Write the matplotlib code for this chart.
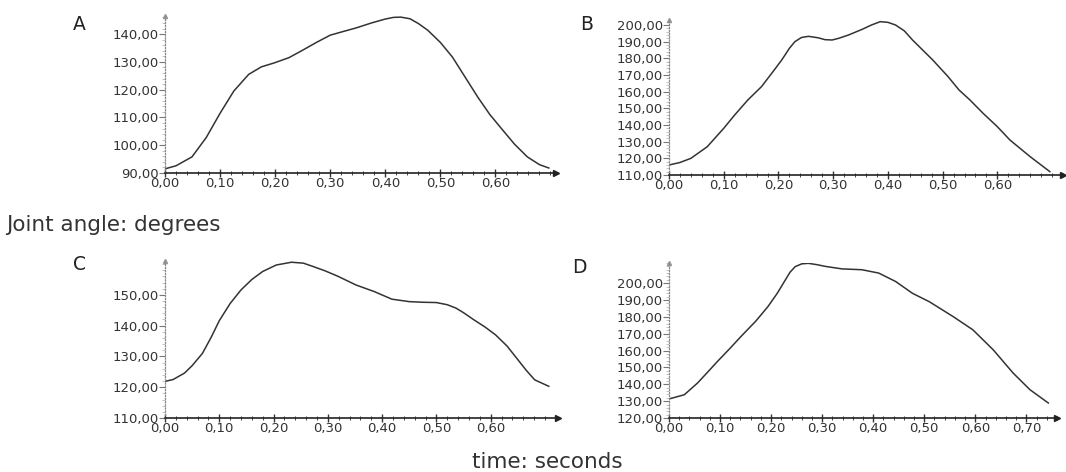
import matplotlib
matplotlib.use("Agg")
import matplotlib.pyplot as plt
from matplotlib.ticker import MultipleLocator, FuncFormatter

# values (time in s, joint angle in degrees)
t_a = [0.0, 0.02, 0.049, 0.075, 0.10, 0.125, 0.152, 0.175, 0.198, 0.225, 0.25, 0.275, 0.30,
       0.325, 0.347, 0.375, 0.40, 0.415, 0.428, 0.445, 0.46, 0.477, 0.50, 0.522, 0.545,
       0.568, 0.59, 0.613, 0.635, 0.658, 0.68, 0.697]
v_a = [91.5, 92.6, 95.8, 102.8, 111.5, 119.5, 125.5, 128.2, 129.6, 131.5, 134.2, 137.0, 139.6,
       141.0, 142.2, 144.0, 145.4, 146.0, 146.1, 145.5, 143.8, 141.4, 137.0, 131.7, 124.5,
       117.3, 111.0, 105.5, 100.3, 95.8, 93.0, 91.8]

t_b = [0.0, 0.02, 0.04, 0.07, 0.10, 0.12, 0.144, 0.169, 0.19, 0.206, 0.22, 0.23, 0.242, 0.255,
       0.273, 0.285, 0.298, 0.31, 0.328, 0.353, 0.37, 0.386, 0.40, 0.414, 0.43, 0.445, 0.482,
       0.51, 0.53, 0.55, 0.574, 0.60, 0.623, 0.66, 0.696]
v_b = [116.0, 117.5, 120.0, 127.0, 138.0, 146.0, 155.0, 163.0, 172.0, 179.0, 186.0, 190.0, 192.5,
       193.2, 192.3, 191.2, 191.0, 192.0, 194.0, 197.4, 200.0, 202.0, 201.6, 200.0, 196.5, 191.0,
       179.0, 169.0, 161.0, 155.0, 147.0, 139.0, 131.0, 121.0, 112.0]

t_c = [0.0, 0.015, 0.036, 0.05, 0.069, 0.085, 0.10, 0.12, 0.14, 0.16, 0.18, 0.205, 0.233, 0.255,
       0.273, 0.295, 0.319, 0.352, 0.385, 0.418, 0.45, 0.475, 0.50, 0.52, 0.536, 0.55, 0.569,
       0.59, 0.609, 0.63, 0.648, 0.665, 0.681, 0.707]
v_c = [121.9, 122.5, 124.6, 127.0, 131.0, 136.2, 141.6, 147.2, 151.6, 155.0, 157.6, 159.7, 160.6,
       160.3, 159.2, 157.8, 156.0, 153.2, 151.1, 148.6, 147.8, 147.6, 147.5, 146.8, 145.7, 144.2,
       141.9, 139.5, 137.0, 133.4, 129.4, 125.6, 122.4, 120.3]

t_d = [0.0, 0.03, 0.056, 0.075, 0.095, 0.12, 0.141, 0.17, 0.194, 0.212, 0.227, 0.237, 0.247,
       0.26, 0.273, 0.29, 0.306, 0.339, 0.378, 0.411, 0.444, 0.477, 0.51, 0.556, 0.595, 0.635,
       0.674, 0.707, 0.743]
v_d = [131.3, 133.8, 140.8, 147.0, 153.6, 161.5, 168.4, 177.5, 186.2, 194.0, 201.5, 206.5, 209.8,
       211.5, 211.8, 211.0, 210.0, 208.5, 208.0, 206.0, 201.0, 194.0, 189.0, 180.3, 172.4, 160.5,
       146.7, 136.8, 128.9]

yticks_a = [90, 100, 110, 120, 130, 140]
yticks_b = [110, 120, 130, 140, 150, 160, 170, 180, 190, 200]
yticks_c = [110, 120, 130, 140, 150]
yticks_d = [120, 130, 140, 150, 160, 170, 180, 190, 200]
xticks_abc = [0.0, 0.1, 0.2, 0.3, 0.4, 0.5, 0.6]
xticks_d = [0.0, 0.1, 0.2, 0.3, 0.4, 0.5, 0.6, 0.7]

W, H = 1066, 472

def px_box(left, right, bottom, top):
    # pixel box (from top-left) -> figure fraction rect
    return [left / W, 1 - bottom / H, (right - left) / W, (bottom - top) / H]

panels = [
    # label, t, v, axes box, xlim, ylim, yticks, xticks, label pos (px)
    ("A", t_a, v_a, px_box(165, 556, 173, 16), (0, 0.71), (90, 146.5), yticks_a, xticks_abc, (73, 30)),
    ("B", t_b, v_b, px_box(669, 1063, 175, 20), (0, 0.72), (110, 203), yticks_b, xticks_abc, (580, 30)),
    ("C", t_c, v_c, px_box(165, 558, 418, 261), (0, 0.724), (110, 161), yticks_c, xticks_abc, (73, 270)),
    ("D", t_d, v_d, px_box(669, 1057, 418, 263), (0, 0.76), (120, 212), yticks_d, xticks_d, (572, 273)),
]

comma = FuncFormatter(lambda v, p: f"{v:.2f}".replace(".", ","))

fig = plt.figure(figsize=(W / 100, H / 100), dpi=100)
fig.patch.set_facecolor("white")

for lab, t, v, box, xl, yl, yt, xt, lpos in panels:
    ax = fig.add_axes(box)
    ax.set_facecolor("white")
    ax.plot(t, v, color="#333333", lw=1.1)
    ax.set_xlim(*xl)
    ax.set_ylim(*yl)
    ax.set_xticks(xt)
    ax.set_yticks(yt)
    ax.xaxis.set_minor_locator(MultipleLocator(0.02))
    ax.yaxis.set_minor_locator(MultipleLocator(2))
    ax.xaxis.set_major_formatter(comma)
    ax.yaxis.set_major_formatter(comma)
    for s in ("top", "right"):
        ax.spines[s].set_visible(False)
    ax.spines["bottom"].set_color("#222222")
    ax.spines["bottom"].set_linewidth(1.2)
    ax.spines["left"].set_color("#888888")
    ax.spines["left"].set_linestyle((0, (1, 1.5)))
    ax.spines["left"].set_linewidth(0.9)
    ax.tick_params(axis="x", which="major", direction="inout", length=6, width=1,
                   color="#333333", labelsize=9.5, labelcolor="#333333", pad=0)
    ax.tick_params(axis="x", which="minor", direction="inout", length=3, width=0.7,
                   color="#444444")
    ax.tick_params(axis="y", which="major", direction="out", length=4, width=0.8,
                   color="#777777", labelsize=9.5, labelcolor="#333333", pad=0.5)
    ax.tick_params(axis="y", which="minor", direction="out", length=2, width=0.5,
                   color="#aaaaaa")
    # arrow heads at the axis ends
    ax.plot(1, 0, ">", color="#222222", ms=4, transform=ax.transAxes, clip_on=False)
    ax.plot(0, 1, "^", color="#999999", ms=3, transform=ax.transAxes, clip_on=False)
    fig.text(lpos[0] / W, 1 - lpos[1] / H, lab, fontsize=13.5, family="DejaVu Sans",
             color="#222222", va="baseline")

fig.text(6 / W, 1 - 231 / H, "Joint angle: degrees", fontsize=15.5, family="DejaVu Sans",
         color="#333333", va="baseline")
fig.text(547 / W, 1 - 468 / H, "time: seconds", fontsize=15.5, family="DejaVu Sans",
         color="#333333", ha="center", va="baseline")

fig.savefig("out.png", dpi=100)
